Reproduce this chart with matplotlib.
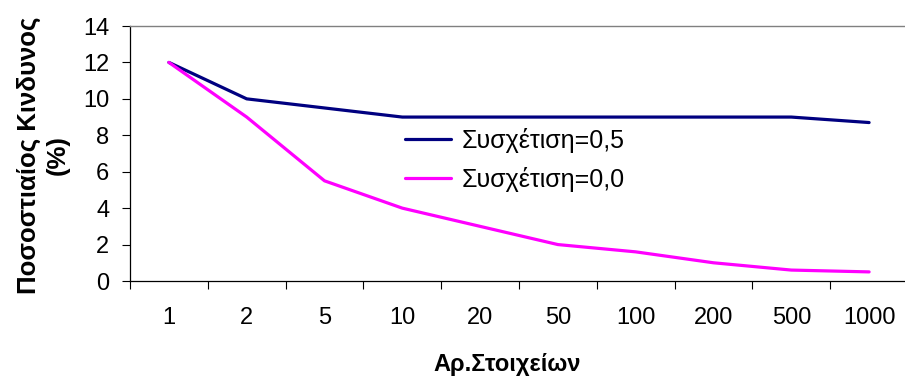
import matplotlib
matplotlib.use("Agg")
import matplotlib.pyplot as plt
import numpy as np

categories = ["1", "2", "5", "10", "20", "50", "100", "200", "500", "1000"]
corr_05 = [12, 10, 9.5, 9, 9, 9, 9, 9, 9, 8.7]
corr_00 = [12, 9, 5.5, 4, 3, 2, 1.6, 1.0, 0.6, 0.5]
series_labels = ["Συσχέτιση=0,5", "Συσχέτιση=0,0"]
y_label = "Ποσοστιαίος Κινδυνος\n(%)"
x_label = "Αρ.Στοιχείων"

plt.rcParams['font.family'] = ['Liberation Sans', 'DejaVu Sans']

fig = plt.figure(figsize=(9.05, 3.76), dpi=100)
ax = fig.add_axes([130/905, 1-281/376, 778/905, 255/376])

x = np.arange(len(categories))
ax.plot(x, corr_05, color="#000080", lw=2.3, label=series_labels[0], solid_capstyle='round')
ax.plot(x, corr_00, color="#FF00FF", lw=2.3, label=series_labels[1], solid_capstyle='round')

ax.set_xlim(-0.5, len(categories) - 0.5)
ax.set_ylim(0, 14)
ax.set_yticks(np.arange(0, 15, 2))
ax.tick_params(axis='y', labelsize=17, length=6, width=0.8, pad=9, direction='out')

ax.set_xticks(np.arange(-0.5, len(categories), 1.0))
ax.set_xticklabels([])
ax.set_xticks(x, minor=True)
ax.set_xticklabels(categories, minor=True)
ax.tick_params(axis='x', which='major', length=6, width=0.8, direction='out')
ax.tick_params(axis='x', which='minor', length=0, labelsize=17, pad=19)

for s in ['left', 'bottom']:
    ax.spines[s].set_color('black')
    ax.spines[s].set_linewidth(0.9)
ax.spines['top'].set_color('#808080')
ax.spines['top'].set_linewidth(1.0)
ax.spines['right'].set_visible(False)

fig.text(43/905, 1-155/376, y_label, rotation=90, ha='center', va='center',
         fontsize=18.5, fontweight='bold', multialignment='center', linespacing=1.25)
fig.text(507/905, 1-365/376, x_label, ha='center', va='center',
         fontsize=17, fontweight='bold')

leg = ax.legend(frameon=False, loc='center left', bbox_to_anchor=(405/905, 1-160/376),
                bbox_transform=fig.transFigure, fontsize=18, handlelength=1.85,
                handletextpad=0.4, labelspacing=0.55, borderpad=0, borderaxespad=0)

fig.savefig("out.png", dpi=100)
